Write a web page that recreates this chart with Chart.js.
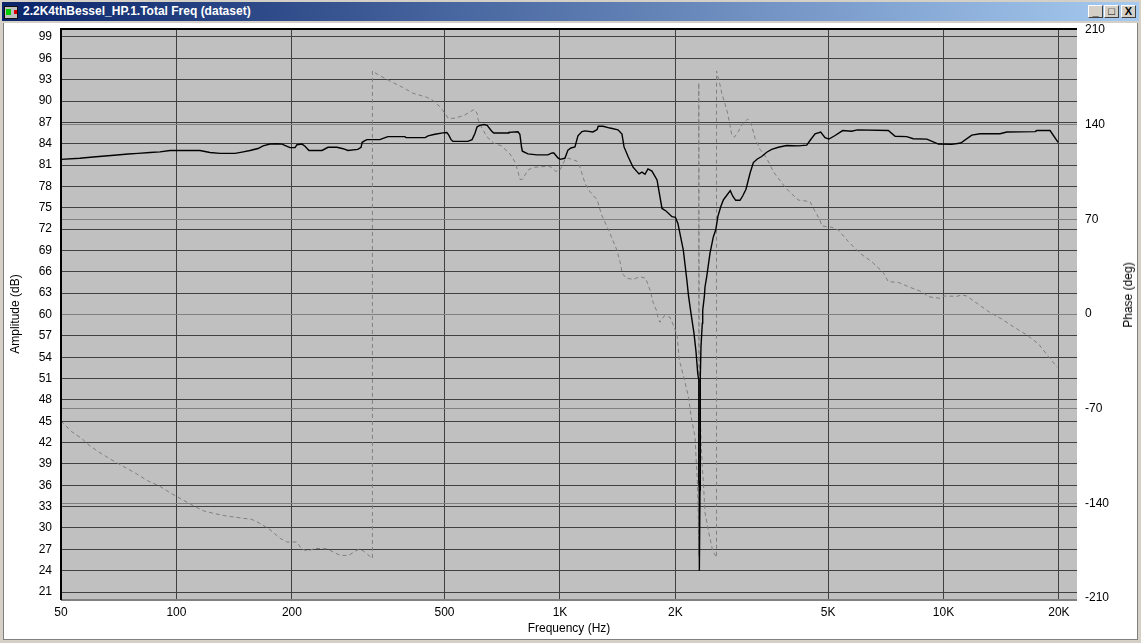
<!DOCTYPE html>
<html>
<head>
<meta charset="utf-8">
<title>2.2K4thBessel_HP.1.Total Freq (dataset)</title>
<script src="https://cdn.jsdelivr.net/npm/chart.js@4"></script>
<style>
html, body { margin: 0; padding: 0; width: 1141px; height: 643px; overflow: hidden; background: #d4d0c8; }
#client { position: absolute; left: 3px; top: 23px; width: 1133px; height: 616px; background: #fff; border-left: 1px solid #808080; border-bottom: 1px solid #808080; border-right: 1px solid #808080; }
#titlebar { position: absolute; left: 2px; top: 2px; width: 1137px; height: 19px; background: linear-gradient(to right, #0a246a, #a6caf0); }
#titletext { position: absolute; left: 21px; top: 2px; color: #fff; font: bold 12px "Liberation Sans", sans-serif; white-space: nowrap; }
#icon { position: absolute; left: 2px; top: 4px; width: 12px; height: 11px; background: #c0c0c0; border: 1px solid #111; }
#icon i { position: absolute; left: 1px; top: 2px; width: 5px; height: 6px; background: #0c0; }
#icon b { position: absolute; right: 0; top: 3px; width: 3px; height: 4px; background: #d00; }
.btn { position: absolute; top: 3px; width: 13px; height: 11px; background: #d4d0c8; border: 1px solid; border-color: #fff #404040 #404040 #fff; font: bold 11px/11px "Liberation Sans", sans-serif; text-align: center; color: #000; }
#phaseTitle { position: absolute; left: 1128px; top: 295px; transform: translate(-50%, -50%) rotate(-90deg); font: 12px "Liberation Sans", sans-serif; color: #000; white-space: nowrap; z-index: 2; }
canvas { position: absolute; left: 0; top: 0; }
</style>
</head>
<body>
<div id="titlebar">
  <div id="icon"><i></i><b></b></div>
  <div id="titletext">2.2K4thBessel_HP.1.Total Freq (dataset)</div>
  <div class="btn" style="left:1086px">_</div>
  <div class="btn" style="left:1102px">□</div>
  <div class="btn" style="left:1119px">X</div>
</div>
<div id="client"></div>
<canvas id="freqChart" width="1141" height="643"></canvas>
<div id="phaseTitle">Phase (deg)</div>
<script>
// values
const ampFreq = [50, 56, 60.6, 65.1, 70, 74.8, 79.4, 85.3, 90.6, 96.2, 115.2, 122.3, 129.9, 142.1, 148.2, 155.5, 163.2, 168.2, 175.4, 182.9,
    188.5, 194.3, 197.8, 203.8, 206.2, 212.5, 216.4, 221.6, 239.6, 248.4, 262, 272, 280, 297, 303, 305, 310, 314, 339, 350,
    356, 394, 397, 445, 453, 472, 495, 507, 513, 520, 526, 575, 590, 600, 608, 618, 634, 646, 663, 672,
    732, 736, 777, 786, 794, 798, 825, 871, 930, 954, 964, 988, 1000, 1030, 1049, 1068, 1094, 1114, 1141, 1162,
    1219, 1250, 1258, 1296, 1350, 1417, 1451, 1469, 1505, 1551, 1607, 1636, 1666, 1696, 1737, 1791, 1845, 1890, 1959, 2000,
    2030, 2097, 2142, 2165, 2196, 2236, 2263, 2287, 2301, 2301, 2309, 2309, 2318, 2322, 2322, 2332, 2350, 2356, 2379, 2389,
    2413, 2461, 2511, 2548, 2580, 2625, 2667, 2705, 2780, 2820, 2872, 2947, 2995, 3055, 3130, 3193, 3270, 3357, 3460, 3565,
    3710, 3900, 4180, 4400, 4487, 4625, 4784, 4910, 5029, 5216, 5460, 5762, 5960, 7180, 7480, 8020, 8340, 9050, 9700, 10510,
    11090, 11850, 12455, 14043, 14620, 17330, 17510, 18961, 19900];
const ampDb = [81.8, 81.95, 82.14, 82.27, 82.41, 82.55, 82.64, 82.77, 82.86, 83.05, 83.05, 82.77, 82.64, 82.64, 82.82, 83.05, 83.32, 83.7, 83.95, 84,
    83.95, 83.64, 83.45, 83.45, 83.86, 83.95, 83.64, 83.05, 83.05, 83.5, 83.5, 83.3, 83.05, 83.2, 83.5, 84.2, 84.43, 84.57, 84.57, 84.86,
    85, 85, 84.86, 84.86, 85.1, 85.33, 85.52, 85.57, 85.2, 84.57, 84.33, 84.33, 84.57, 85.43, 86.38, 86.57, 86.7, 86.57, 85.8, 85.5,
    85.5, 85.6, 85.67, 85.33, 83.5, 82.95, 82.57, 82.43, 82.43, 82.7, 82.7, 82, 81.8, 81.95, 83.1, 83.4, 83.55, 85.1, 85.7, 85.8,
    85.65, 86, 86.45, 86.45, 86.2, 85.95, 85.35, 83.55, 82.2, 80.7, 79.75, 80, 79.7, 80.45, 80.15, 78.9, 74.9, 74.55, 73.75, 73.65,
    72.8, 69.06, 64.85, 62.5, 60.15, 57.35, 54.8, 51.7, 50.8, 36.7, 35.3, 24, 35.3, 36.7, 51.25, 55.5, 58.75, 60.6, 62.5, 63.9,
    65.3, 68.6, 70.9, 71.9, 73.75, 75.15, 76.1, 76.55, 77.4, 76.65, 76.05, 76.05, 76.65, 77.6, 79.85, 81.35, 81.85, 82.2, 82.8, 83.2,
    83.5, 83.75, 83.7, 83.8, 84.45, 85.4, 85.65, 84.85, 84.65, 85.15, 85.85, 85.75, 85.95, 85.85, 85.05, 85, 84.7, 84.65, 83.95, 83.9,
    84.1, 85.2, 85.4, 85.4, 85.65, 85.7, 85.85, 85.85, 84.2];

const phaseFreq = [50, 53.3, 56.6, 58.8, 62.5, 67.9, 72.9, 78.3, 84.1, 90.3, 96.2, 103.2, 110.7, 117.5, 126.1, 135.3, 157.2, 162, 173.7, 186.4,
    194, 206, 212.2, 219.5, 229.9, 246.6, 267.2, 281, 298.5, 307.5, 324.3, 324.3, 336, 360, 388, 414, 449, 467, 486, 501,
    511.5, 532, 565, 594, 597, 608, 612, 623, 645, 672, 704, 741, 765, 775, 786, 798, 826, 853, 934, 950,
    974, 998, 1030, 1050, 1105, 1123, 1162, 1197, 1251, 1284, 1339, 1407, 1434, 1453, 1491, 1553, 1617, 1673, 1717, 1752,
    1791, 1798, 1823, 1871, 1936, 1975, 2020, 2047, 2101, 2163, 2205, 2250, 2263, 2281, 2294, 2301, 2301, 2305, 2305, 2325,
    2336, 2350, 2366, 2389, 2445, 2501, 2560, 2560, 2614, 2641, 2723, 2764, 2805, 2850, 2917, 2977, 3087, 3149, 3226, 3323,
    3459, 3600, 3824, 3940, 4180, 4487, 4577, 4764, 4813, 5110, 5320, 5650, 6058, 6500, 6960, 7180, 7620, 8180, 8775, 9130,
    9795, 10030, 10840, 11160, 11500, 12330, 13225, 14190, 15200, 16500, 17700, 18800, 19770];
const phaseDeg = [-79.1, -87, -92, -96.4, -101.8, -108, -112.9, -117.8, -123.3, -127.2, -132.2, -137, -141.8, -145.5, -147.7, -149.4, -151.9, -153.6, -158.5, -165.9,
    -168.6, -168.6, -173.8, -175.3, -173.3, -173.6, -178.5, -178.5, -174, -175.3, -180.7, 179.7, 176.8, 172.3, 167.7, 163.2, 160.3, 157.8, 153.3, 148.5,
    144.7, 144.7, 147.2, 150.9, 151.4, 148.4, 143.5, 138.5, 131.1, 126.3, 124.3, 118.3, 111.9, 106.5, 99.6, 99.6, 106.5, 108.5, 109.2, 108.5,
    105.5, 106, 113.9, 115.2, 113.2, 110.2, 96.7, 90.5, 84.3, 73.2, 62.1, 47.3, 38.7, 30.1, 26.4, 25.7, 27.6, 26.4, 17.8, 7.9,
    1.7, -2, -6.1, -1.3, -2.4, -8.1, -15.5, -34, -46.4, -61.2, -78.4, -90.7, -105.5, -122.8, -147.4, -179.5, 171, 25, -26.6, -80.6,
    -97, -113, -125, -147, -162, -175, -180, 179.7, 169.4, 163.2, 150.9, 142.2, 132.4, 130.7, 134.8, 139.8, 144.2, 141, 129.9, 121.8,
    115.2, 105.2, 95.4, 91.2, 84.3, 83.1, 78.2, 69.5, 65.1, 64.1, 62.1, 53.5, 44.9, 38.7, 30.8, 23.9, 23.4, 19.7, 16.5, 12.8,
    11.6, 13.3, 13.1, 14.1, 13.3, 7.2, 1, -3.7, -9.4, -15.5, -22.2, -31.6, -39.4];

const freqTicks = [50, 100, 200, 500, 1000, 2000, 5000, 10000, 20000];
const freqTickLabels = ["50", "100", "200", "500", "1K", "2K", "5K", "10K", "20K"];
const ampTicks = [21, 24, 27, 30, 33, 36, 39, 42, 45, 48, 51, 54, 57, 60, 63, 66, 69, 72, 75, 78, 81, 84, 87, 90, 93, 96, 99];
const phaseTicks = [-210, -140, -70, 0, 70, 140, 210];

const tickFont = { family: "Liberation Sans", size: 12 };

// grey plot background and the sunken border round it
const plotFrame = {
    id: "plotFrame",
    beforeDraw(chart) {
        const a = chart.chartArea, c = chart.ctx;
        c.fillStyle = "#c0c0c0";
        c.fillRect(a.left, a.top, a.right - a.left, a.bottom - a.top);
    },
    afterDatasetsDraw(chart) {
        const a = chart.chartArea, c = chart.ctx;
        c.lineWidth = 2;
        c.strokeStyle = "#808080";
        c.beginPath();
        c.moveTo(a.left, a.bottom + 1);
        c.lineTo(a.right, a.bottom + 1);
        c.stroke();
        c.strokeStyle = "#000";
        c.beginPath();
        c.moveTo(a.left, a.bottom + 1);
        c.lineTo(a.left, a.top);
        c.lineTo(a.right, a.top);
        c.stroke();
    }
};

new Chart(document.getElementById("freqChart"), {
    type: "line",
    data: {
        datasets: [{
            label: "Amplitude (dB)",
            data: ampFreq.map((f, i) => ({ x: f, y: ampDb[i] })),
            yAxisID: "y",
            borderColor: "#000",
            borderWidth: 1.4,
            pointRadius: 0,
            tension: 0
        }, {
            label: "Phase (deg)",
            data: phaseFreq.map((f, i) => ({ x: f, y: phaseDeg[i] })),
            yAxisID: "y2",
            borderColor: "#808080",
            borderWidth: 1,
            borderDash: [4, 3],
            pointRadius: 0,
            tension: 0
        }]
    },
    options: {
        responsive: false,
        animation: false,
        layout: { padding: { top: 29 } },
        plugins: { legend: { display: false }, tooltip: { enabled: false } },
        scales: {
            x: {
                type: "logarithmic",
                min: 50,
                max: 22290,
                afterFit(s) { s.height = 44; },
                afterBuildTicks(s) { s.ticks = freqTicks.map(v => ({ value: v })); },
                grid: { color: "#404040", lineWidth: 1, drawTicks: false },
                border: { display: false },
                ticks: {
                    color: "#000",
                    font: tickFont,
                    padding: 6,
                    autoSkip: false,
                    maxRotation: 0,
                    callback: v => freqTickLabels[freqTicks.indexOf(v)]
                },
                title: { display: true, text: "Frequency (Hz)", color: "#000", font: tickFont, padding: { top: 0, bottom: 7 } }
            },
            y: {
                position: "left",
                min: 20.02,
                max: 100.12,
                afterFit(s) { s.width = 61; },
                afterBuildTicks(s) { s.ticks = ampTicks.map(v => ({ value: v })); },
                grid: { color: "#404040", lineWidth: 1, drawTicks: false },
                border: { display: false },
                ticks: { color: "#000", font: tickFont, padding: 9, autoSkip: false, callback: v => String(v) },
                title: { display: true, text: "Amplitude (dB)", color: "#000", font: tickFont, padding: { top: 8, bottom: 0 } }
            },
            y2: {
                position: "right",
                min: -210.74,
                max: 210.74,
                afterFit(s) { s.width = 64; },
                afterBuildTicks(s) { s.ticks = phaseTicks.map(v => ({ value: v })); },
                grid: {
                    color: ctx => Math.abs(ctx.tick.value) === 210 ? "rgba(0,0,0,0)" : "#808080",
                    lineWidth: 1,
                    drawTicks: false,
                    z: -1
                },
                border: { display: false },
                ticks: { color: "#000", font: tickFont, padding: 8, autoSkip: false, callback: v => String(v) }
            }
        }
    },
    plugins: [plotFrame]
});
</script>
</body>
</html>
